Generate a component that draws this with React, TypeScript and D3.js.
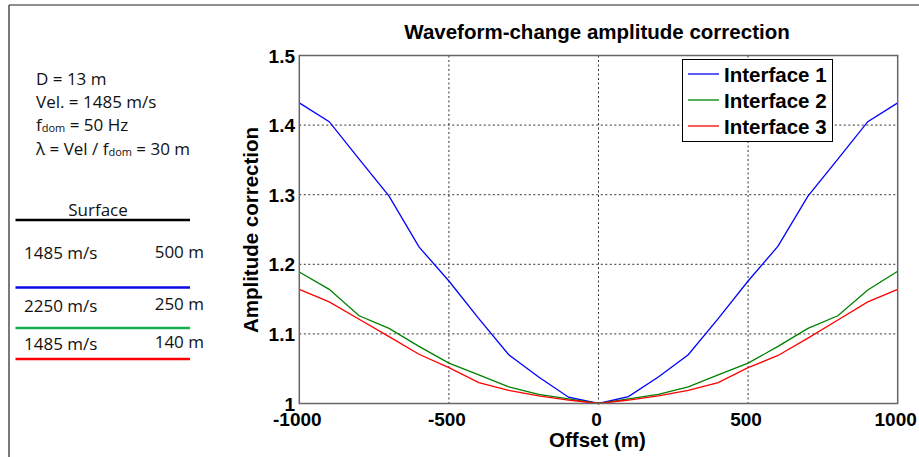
import React from "react";
import * as d3 from "d3";

const offsets = [-1000, -900, -800, -700, -600, -500, -400, -300, -200, -100, 0, 100, 200, 300, 400, 500, 600, 700, 800, 900, 1000];
const interface1 = [1.432, 1.405, 1.351, 1.298, 1.225, 1.176, 1.122, 1.070, 1.038, 1.009, 1.0, 1.010, 1.038, 1.070, 1.122, 1.176, 1.226, 1.298, 1.351, 1.405, 1.432];
const interface2 = [1.189, 1.164, 1.126, 1.108, 1.082, 1.058, 1.041, 1.024, 1.013, 1.0065, 1.0, 1.0065, 1.013, 1.024, 1.041, 1.058, 1.082, 1.108, 1.126, 1.163, 1.190];
const interface3 = [1.164, 1.146, 1.121, 1.096, 1.0707, 1.0515, 1.030, 1.019, 1.011, 1.005, 1.0, 1.005, 1.011, 1.019, 1.030, 1.0515, 1.069, 1.094, 1.120, 1.146, 1.164];
const seriesNames = ["Interface 1", "Interface 2", "Interface 3"];
const seriesColors = ["#0000ff", "#008000", "#ff0000"];
const xTicks = [-1000, -500, 0, 500, 1000];
const yTicks = [1, 1.1, 1.2, 1.3, 1.4, 1.5];
const yTickLabels = ["1", "1.1", "1.2", "1.3", "1.4", "1.5"];
const titleText = "Waveform-change amplitude correction";
const xLabel = "Offset (m)";
const yLabel = "Amplitude correction";

const layers = [
  { vel: "1485 m/s", thick: "500 m", color: "#0a0ae6" },
  { vel: "2250 m/s", thick: "250 m", color: "#12b04f" },
  { vel: "1485 m/s", thick: "140 m", color: "#ff0000" },
];

const W = 919;
const H = 457;
const plot = { left: 299.3, right: 897.7, top: 55.5, bottom: 403.5 };
const axisFont = "'Liberation Sans', Arial, Helvetica, sans-serif";
const noteFont = "'Open Sans', 'Noto Sans', sans-serif";

export default function App() {
  const x = d3.scaleLinear().domain([-1000, 1000]).range([plot.left, plot.right]);
  const y = d3.scaleLinear().domain([1, 1.5]).range([plot.bottom, plot.top]);
  const allSeries = [interface1, interface2, interface3];
  const line = d3
    .line<[number, number]>()
    .x((d) => x(d[0]))
    .y((d) => y(d[1]));

  const layerLineYs = [287.5, 328, 359];
  const layerTextYs = [259, 311.5, 349.5];

  return (
    <div style={{ position: "absolute", left: 0, top: 0 }}>
      <svg width={W} height={H} style={{ display: "block", background: "#fff" }}>
        {/* outer frame */}
        <line x1={9} y1={5} x2={W} y2={5} stroke="#222" strokeWidth={1.2} />
        <line x1={9} y1={5} x2={9} y2={H} stroke="#222" strokeWidth={1.2} />

        {/* left notes */}
        <g fontFamily={noteFont} fontSize={17} fill="#111">
          <text x={36} y={85}>D = 13 m</text>
          <text x={36} y={108}>Vel. = 1485 m/s</text>
          <text x={36} y={131}>
            f<tspan fontSize={11} dy={1}>dom</tspan>
            <tspan dy={-1}> = 50 Hz</tspan>
          </text>
          <text x={36} y={155}>
            λ = Vel / f<tspan fontSize={11} dy={1}>dom</tspan>
            <tspan dy={-1}> = 30 m</tspan>
          </text>
          <text x={98} y={216} textAnchor="middle">Surface</text>
          <line x1={15.5} x2={190} y1={220} y2={220} stroke="#000" strokeWidth={2.5} />
          {layers.map((l, i) => (
            <g key={i}>
              <text x={24} y={layerTextYs[i]}>{l.vel}</text>
              <text x={204} y={layerTextYs[i] - 1.5} textAnchor="end">{l.thick}</text>
              <line x1={15.5} x2={190} y1={layerLineYs[i]} y2={layerLineYs[i]} stroke={l.color} strokeWidth={2.5} />
            </g>
          ))}
        </g>

        {/* grid */}
        <g stroke="#333" strokeWidth={1} strokeDasharray="2,2.5">
          {xTicks.slice(1, -1).map((t) => (
            <line key={"gx" + t} x1={x(t)} x2={x(t)} y1={plot.top} y2={plot.bottom} />
          ))}
          {yTicks.slice(1, -1).map((t) => (
            <line key={"gy" + t} x1={plot.left} x2={plot.right} y1={y(t)} y2={y(t)} />
          ))}
        </g>

        {/* series */}
        {allSeries.map((s, i) => (
          <path
            key={i}
            d={line(offsets.map((o, j) => [o, s[j]] as [number, number])) || ""}
            fill="none"
            stroke={seriesColors[i]}
            strokeWidth={1.3}
          />
        ))}

        {/* axes box */}
        <rect
          x={plot.left}
          y={plot.top}
          width={plot.right - plot.left}
          height={plot.bottom - plot.top}
          fill="none"
          stroke="#666"
          strokeWidth={1.5}
        />

        {/* tick labels */}
        <g fontFamily={axisFont} fontWeight="bold" fontSize={19} fill="#000">
          {yTicks.map((t, i) => (
            <text key={"yt" + t} x={295} y={y(t) + 7} textAnchor="end">
              {yTickLabels[i]}
            </text>
          ))}
          {xTicks.map((t) => (
            <text key={"xt" + t} x={x(t) - 2} y={426} textAnchor="middle">
              {t}
            </text>
          ))}
        </g>

        {/* labels */}
        <g fontFamily={axisFont} fontWeight="bold" fill="#000">
          <text x={597} y={39} textAnchor="middle" fontSize={20.5}>
            {titleText}
          </text>
          <text x={597.5} y={447} textAnchor="middle" fontSize={20.5}>
            {xLabel}
          </text>
          <text transform={`translate(258, 230) rotate(-90)`} textAnchor="middle" fontSize={20.5}>
            {yLabel}
          </text>
        </g>

        {/* legend */}
        <g>
          <rect x={682.5} y={59.5} width={150} height={82} fill="#fff" stroke="#000" strokeWidth={1} />
          {seriesNames.map((n, i) => (
            <g key={n}>
              <line x1={688} x2={719} y1={74 + i * 26} y2={74 + i * 26} stroke={seriesColors[i]} strokeWidth={1.3} />
              <text x={724} y={81.5 + i * 26} fontFamily={axisFont} fontWeight="bold" fontSize={20.5} fill="#000">
                {n}
              </text>
            </g>
          ))}
        </g>
      </svg>
    </div>
  );
}
